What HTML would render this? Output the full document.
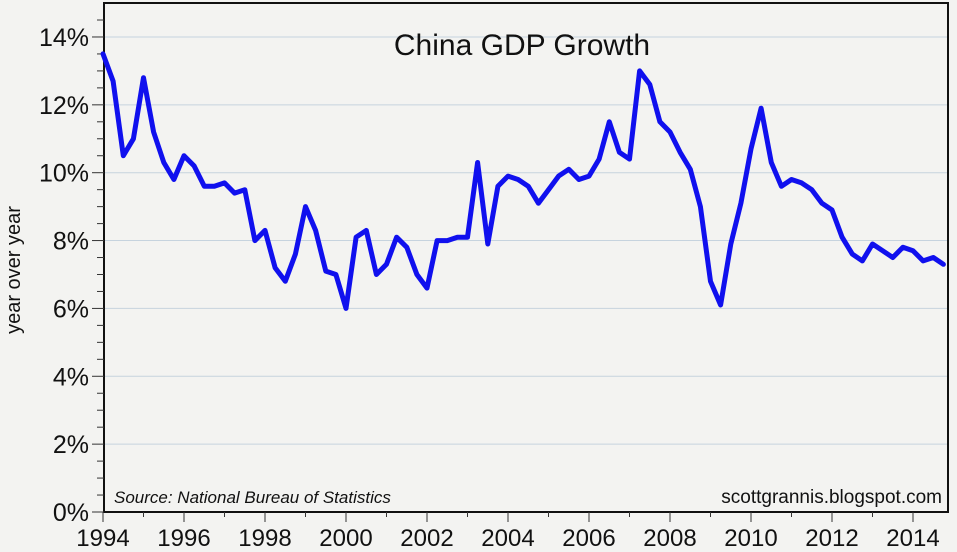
<!DOCTYPE html>
<html><head><style>
html,body{margin:0;padding:0;background:#f3f3f1;}
svg{display:block;font-family:"Liberation Sans",sans-serif;}
</style></head><body>
<svg id="s" width="957" height="552" viewBox="0 0 957 552" xmlns="http://www.w3.org/2000/svg">
<rect width="957" height="552" fill="#f3f3f1"/>
<g id="grid"></g>
<rect x="104" y="3" width="844" height="509" fill="none" stroke="#111" stroke-width="2"/>
<text x="522" y="55" font-size="30" text-anchor="middle" fill="#111">China GDP Growth</text>
<text x="20" y="270" font-size="20" text-anchor="middle" fill="#111" transform="rotate(-90 20 270)">year over year</text>
<text x="114" y="503" font-size="17" font-style="italic" fill="#111">Source: National Bureau of Statistics</text>
<text x="942" y="503" font-size="19" text-anchor="end" fill="#111">scottgrannis.blogspot.com</text>
<g id="ax"></g>
<polyline id="line" fill="none" stroke="#1010ee" stroke-width="5" stroke-linejoin="round" stroke-linecap="round"/>
</svg>
<script>
var d=[13.5,12.7,10.5,11.0,12.8,11.2,10.3,9.8,10.5,10.2,9.6,9.6,9.7,9.4,9.5,8.0,8.3,7.2,6.8,7.6,9.0,8.3,7.1,7.0,6.0,8.1,8.3,7.0,7.3,8.1,7.8,7.0,6.6,8.0,8.0,8.1,8.1,10.3,7.9,9.6,9.9,9.8,9.6,9.1,9.5,9.9,10.1,9.8,9.9,10.4,11.5,10.6,10.4,13.0,12.6,11.5,11.2,10.6,10.1,9.0,6.8,6.1,7.9,9.1,10.7,11.9,10.3,9.6,9.8,9.7,9.5,9.1,8.9,8.1,7.6,7.4,7.9,7.7,7.5,7.8,7.7,7.4,7.5,7.3];
function X(t){return 103+40.5*(t-1994);}
function Y(v){return 512-v*33.93;}
var p=d.map(function(v,i){return X(1994+i/4).toFixed(1)+","+Y(v).toFixed(1)}).join(" ");
document.getElementById("line").setAttribute("points",p);
var g="",a="";
for(var v=2;v<=14;v+=2){g+='<line x1="105" x2="947" y1="'+Y(v)+'" y2="'+Y(v)+'" stroke="#c6d3de" stroke-width="1"/>';}
for(var v=0;v<=14.5;v+=0.5){var maj=v%2==0;a+='<line x1="'+(maj?92:97)+'" x2="104" y1="'+Y(v)+'" y2="'+Y(v)+'" stroke="#333" stroke-width="1"/>';
if(maj)a+='<text x="89" y="'+(Y(v)+9)+'" font-size="25" text-anchor="end" fill="#111">'+v+'%</text>';}
for(var yr=1994;yr<=2014;yr++){var x=X(yr),maj=yr%2==0;a+='<line x1="'+x+'" x2="'+x+'" y1="512" y2="'+(maj?522:517)+'" stroke="#333" stroke-width="1"/>';
if(maj)a+='<text x="'+x+'" y="546" font-size="24" text-anchor="middle" fill="#111">'+yr+'</text>';}
document.getElementById("grid").innerHTML=g;document.getElementById("ax").innerHTML=a;
</script>
</body></html>
